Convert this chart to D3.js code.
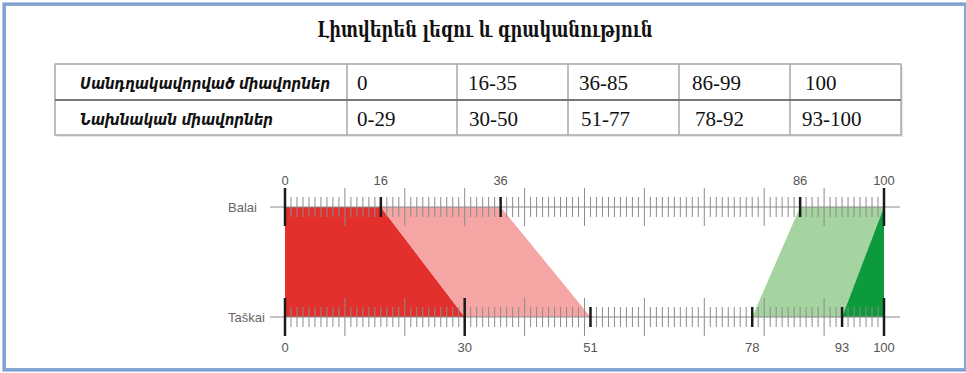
<!DOCTYPE html>
<html><head><meta charset="utf-8">
<script src="https://cdn.jsdelivr.net/npm/d3@7"></script>
<style>html,body{margin:0;padding:0;background:#fff;}svg{display:block;}</style>
</head><body>
<script>
// ---- data ----
const title = "Լիտվերեն լեզու և գրականություն";
const rowHeaders = ["Սանդղակավորված միավորներ", "Նախնական միավորներ"];
const scaledRanges = ["0", "16-35", "36-85", "86-99", "100"];
const rawRanges = ["0-29", "30-50", "51-77", "78-92", "93-100"];
const axisNames = ["Balai", "Taškai"];
const balaiFrom = [0, 16, 86, 100];
const balaiTo = [16, 36, 100, 100];
const taskaiFrom = [0, 30, 78, 93];
const taskaiTo = [30, 51, 93, 100];
const bandColors = ["#e3302c", "#f4a5a4", "#a6d4a1", "#0c9a3d"];
const balaiMarks = [0, 16, 36, 86, 100];
const taskaiMarks = [0, 30, 51, 78, 93, 100];

const W = 966, H = 373;
const svg = d3.select("body").append("svg").attr("width", W).attr("height", H);

// frame
svg.append("rect").attr("x", 4.5).attr("y", 4.5).attr("width", 961).attr("height", 365)
  .attr("fill", "none").attr("stroke", "#86a6d6").attr("stroke-width", 3);
svg.append("rect").attr("x", 3).attr("y", 3).attr("width", 964).attr("height", 368)
  .attr("fill", "none").attr("stroke", "#7094cb").attr("stroke-width", 1);

// title
svg.append("text").attr("x", 485).attr("y", 37).attr("text-anchor", "middle")
  .attr("font-family", "'DejaVu Serif Condensed','DejaVu Serif',serif").attr("font-weight", "bold")
  .attr("font-size", 22).attr("textLength", 335).attr("lengthAdjust", "spacingAndGlyphs")
  .attr("fill", "#111").text(title);

// table
const colX = [55, 347, 457, 568, 679, 790, 901];
const rowY = [64, 100, 135];
const headerLen = [250, 193];
const tbl = svg.append("g");
tbl.append("rect").attr("x", colX[0] + 2).attr("y", rowY[0] + 2).attr("width", colX[6] - colX[0]).attr("height", rowY[2] - rowY[0])
  .attr("fill", "#e6e6e6");
tbl.append("rect").attr("x", colX[0]).attr("y", rowY[0]).attr("width", colX[6] - colX[0]).attr("height", rowY[2] - rowY[0])
  .attr("fill", "#fff").attr("stroke", "#a8a8a8").attr("stroke-width", 1.5);
colX.slice(1, 6).forEach(x => tbl.append("line").attr("x1", x).attr("x2", x).attr("y1", rowY[0]).attr("y2", rowY[2])
  .attr("stroke", "#a8a8a8").attr("stroke-width", 1.5));
tbl.append("line").attr("x1", colX[0]).attr("x2", colX[6]).attr("y1", rowY[1]).attr("y2", rowY[1])
  .attr("stroke", "#777").attr("stroke-width", 2);
rowHeaders.forEach((t, i) => tbl.append("text").attr("x", 80).attr("y", rowY[i] + 25)
  .attr("font-family", "'DejaVu Sans Condensed','DejaVu Sans',sans-serif").attr("font-stretch", "condensed")
  .attr("font-weight", "bold").attr("font-style", "italic")
  .attr("font-size", 15).attr("textLength", headerLen[i]).attr("lengthAdjust", "spacingAndGlyphs")
  .attr("fill", "#111").text(t));
[scaledRanges, rawRanges].forEach((arr, r) => arr.forEach((t, i) => tbl.append("text")
  .attr("x", colX[i + 1] + (r === 0 ? [10, 11, 11, 13, 15][i] : [10, 12, 13, 16, 12][i]))
  .attr("y", rowY[r] + 26).attr("font-family", "'Liberation Serif',serif").attr("font-size", 21)
  .attr("fill", "#111").text(t)));

// chart
const x = d3.scaleLinear().domain([0, 100]).range([285, 884]);
const yB = 207, yT = 317;

// bands
balaiFrom.forEach((b, i) => {
  const pts = [[x(b), yB], [x(balaiTo[i]), yB], [x(taskaiTo[i]), yT], [x(taskaiFrom[i]), yT]];
  svg.append("polygon").attr("points", pts.map(p => p.join(",")).join(" ")).attr("fill", bandColors[i]);
});

function drawAxis(y, marks, name) {
  const g = svg.append("g");
  g.append("line").attr("x1", 270).attr("x2", 900).attr("y1", y).attr("y2", y).attr("stroke", "#8a8a8a").attr("stroke-width", 1);
  x.ticks(100).forEach(v => {
    const long = v % 10 === 0;
    const h = long ? 19 : 10;
    g.append("line").attr("x1", x(v)).attr("x2", x(v)).attr("y1", y - h).attr("y2", y + h)
      .attr("stroke", "#8c8c8c").attr("stroke-width", 1);
  });
  marks.forEach(v => {
    const h = v % 10 === 0 ? 19 : 10;
    g.append("line").attr("x1", x(v)).attr("x2", x(v)).attr("y1", y - h).attr("y2", y + h)
      .attr("stroke", "#1a1a1a").attr("stroke-width", 2.5);
  });
  g.append("text").attr("x", 228).attr("y", y + 5).attr("font-family", "'Liberation Sans',Arial,sans-serif")
    .attr("font-size", 13).attr("fill", "#666").text(name);
  return g;
}
const gB = drawAxis(yB, balaiMarks, axisNames[0]);
balaiMarks.forEach(v => gB.append("text").attr("x", x(v)).attr("y", 185).attr("text-anchor", "middle")
  .attr("font-family", "'Liberation Sans',Arial,sans-serif").attr("font-size", 13).attr("fill", "#555").text(v));
const gT = drawAxis(yT, taskaiMarks, axisNames[1]);
taskaiMarks.forEach(v => gT.append("text").attr("x", x(v)).attr("y", 352).attr("text-anchor", "middle")
  .attr("font-family", "'Liberation Sans',Arial,sans-serif").attr("font-size", 13).attr("fill", "#555").text(v));
</script>
</body></html>
